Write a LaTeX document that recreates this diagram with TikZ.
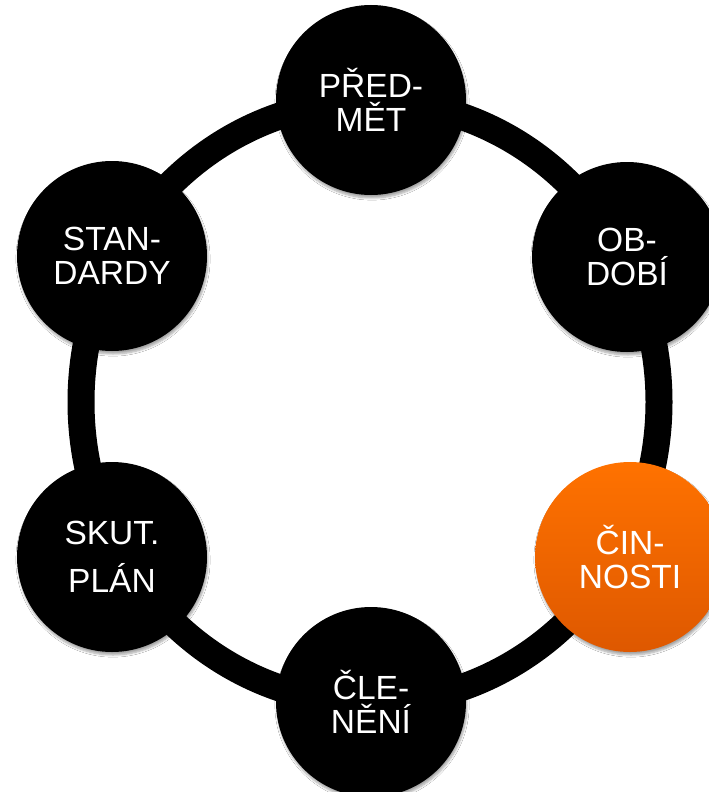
\documentclass[tikz,border=0pt]{standalone}
\usepackage{fontspec}
\setmainfont{Liberation Sans}
\usetikzlibrary{shadows.blur}
\definecolor{orangetop}{RGB}{255,114,0}
\definecolor{orangebot}{RGB}{222,88,0}
\tikzset{
  bubble/.style={circle, fill=black, minimum size=190pt, inner sep=0pt,
    text=white, align=center, font=\fontsize{33.5}{34.5}\selectfont,
    blur shadow={shadow blur steps=6, shadow xshift=1pt, shadow yshift=-3pt, shadow opacity=35}},
  hot/.style={bubble, fill=none, top color=orangetop, bottom color=orangebot},
  ringline/.style={line width=27pt, draw=black}
}
\begin{document}
\begin{tikzpicture}[x=1pt, y=-1pt]
\useasboundingbox (0,0) rectangle (709,792);
\fill[white] (0,0) rectangle (709,792);
\coordinate (c) at (370,402);
\draw[ringline] (c) ellipse [x radius=289, y radius=301];
\node[bubble] (predmet) at (371,100) {PŘED-\\MĚT};
\node[bubble] (obdobi) at (627,257) {OB-\\DOBÍ};
\node[hot] (cinnosti) at (630,557) {ČIN-\\NOSTI};
\node[bubble] (cleneni) at (371,702) {ČLE-\\NĚNÍ};
\node[bubble] (skut) at (112,557) {SKUT.\\[13pt]PLÁN};
\node[bubble] (standardy) at (112,256) {STAN-\\DARDY};
\end{tikzpicture}
\end{document}
